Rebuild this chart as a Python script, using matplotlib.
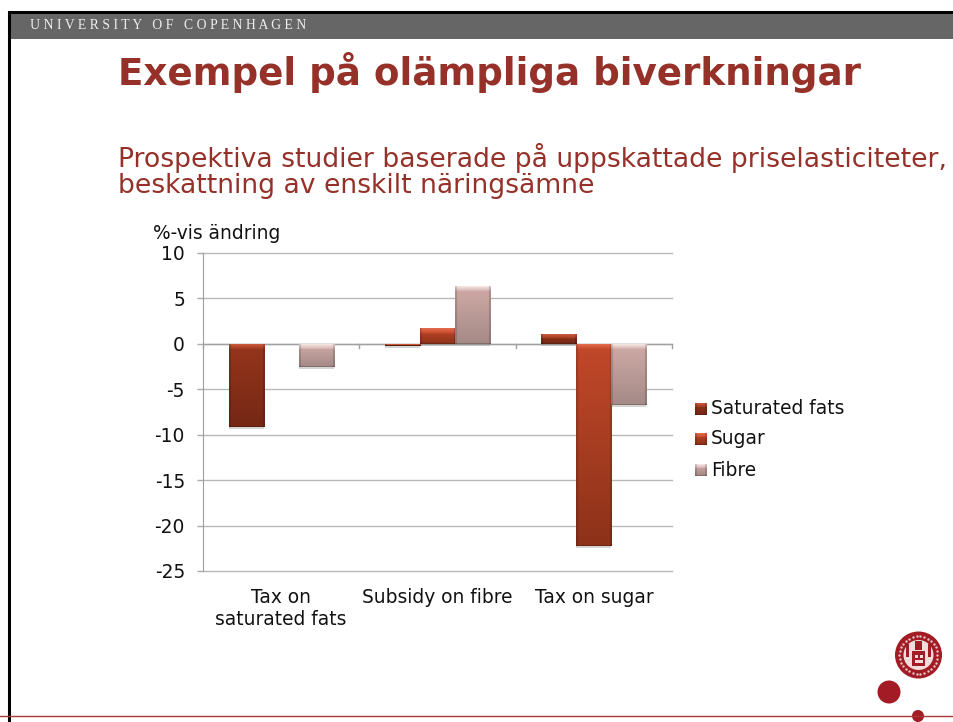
import numpy as np
import matplotlib
matplotlib.use("Agg")
import matplotlib.pyplot as plt
from matplotlib.colors import to_rgb
from matplotlib.patches import Circle, Rectangle

categories = ["Tax on\nsaturated fats", "Subsidy on fibre", "Tax on sugar"]
series_names = ["Saturated fats", "Sugar", "Fibre"]
saturated = [-9.1, -0.2, 1.0]
sugar = [0.0, 1.7, -22.2]
fibre = [-2.5, 6.3, -6.7]
y_ticks = [10, 5, 0, -5, -10, -15, -20, -25]

title = "Exempel på olämpliga biverkningar"
subtitle = "Prospektiva studier baserade på uppskattade priselasticiteter,\nbeskattning av enskilt näringsämne"
header = "UNIVERSITY OF COPENHAGEN"

W, H = 954, 722
RED = "#953129"
SEAL = "#a31b24"
TXT = "#111111"
FS = 13.4

# bevel, top of body, bottom of body
shades = [
    ("#c9583a", "#96351c", "#742815"),
    ("#e2694a", "#c2482a", "#8c3219"),
    ("#f3e4e2", "#cfaaa6", "#a58a87"),
]

plt.rcParams["font.family"] = "DejaVu Sans"
fig = plt.figure(figsize=(W / 100, H / 100), dpi=100, facecolor="white")


def bevel_image(height_px, shade, width_px=35, bevel=5):
    # rows run from the top of the bar down, sides and foot get a darker rim
    light, top, bottom = [np.array(to_rgb(c)) for c in shade]
    rows = max(int(round(height_px)), 2)
    body = np.linspace(0, 1, rows)[:, None] * (bottom - top) + top
    img = np.repeat(body[:, None, :], width_px, axis=1)
    n = min(bevel, rows // 2)
    for r in range(n):
        img[r] = light + (top - light) * r / max(n, 1)
    img[:, :2] *= 0.85
    img[:, -2:] *= 0.85
    img[-1:] *= 0.8
    return img


# slide furniture, in pixel coordinates
bg = fig.add_axes([0, 0, 1, 1])
bg.axis("off")
bg.add_patch(Rectangle((10, 13), W - 10, 26, color="#666666", lw=0))
bg.plot([9, 9, W], [H, 12, 12], color="black", lw=2.2, solid_joinstyle="miter")
bg.text(30, 25.5, " ".join(header), family="Liberation Serif", fontsize=9.9,
        color="#eeeeee", va="center", ha="left")
bg.text(118, 85, title, fontsize=26.8, fontweight="bold", color=RED, va="baseline")
bg.text(118, 193, subtitle, fontsize=19.2, color=RED, va="baseline", linespacing=1.0)
bg.text(153, 239, "%-vis ändring", fontsize=FS, color=TXT, va="baseline")
bg.plot([0, W], [716, 716], color="#a8383a", lw=1)
bg.add_patch(Circle((889, 692), 11.5, color=SEAL, lw=0))
bg.add_patch(Circle((918, 716), 6, color=SEAL, lw=0))

# university seal
bg.add_patch(Circle((918.5, 655), 23.5, color=SEAL, lw=0))
ang = np.arange(0, 360, 12) * np.pi / 180
bg.scatter(918.5 + 19 * np.cos(ang), 655 + 19 * np.sin(ang), s=3, color="#e8c4c4", lw=0)
bg.add_patch(Circle((918.5, 655), 15, color="#f0dcda", lw=0))
bg.add_patch(Rectangle((912, 651), 13, 15, color=SEAL, lw=0))
bg.add_patch(Rectangle((915, 655), 3, 3, color="#f0dcda", lw=0))
bg.add_patch(Rectangle((920, 655), 3, 3, color="#f0dcda", lw=0))
bg.add_patch(Rectangle((915, 660), 8, 3, color="#f0dcda", lw=0))
bg.add_patch(Rectangle((906, 644), 3, 13, color=SEAL, lw=0))
bg.add_patch(Rectangle((928, 644), 3, 13, color=SEAL, lw=0))
bg.add_patch(Rectangle((915, 641), 7, 9, color=SEAL, lw=0))

ax = fig.add_axes([203 / W, 1 - 571 / H, 469 / W, 318 / H])
ax.set_facecolor("none")
x = np.arange(len(categories))
bar_w = 0.224
px_per_unit = 318 / 35


def bevel_bars(offset, values, shade):
    bars = ax.bar(x + offset, values, bar_w, color="none", linewidth=0, zorder=4)
    for b, v in zip(bars, values):
        if v == 0:
            continue
        x0, w = b.get_x(), b.get_width()
        # soft shadow just below the bar
        ax.bar(x0 + w / 2, -0.25, w, bottom=min(v, 0), color="#888888", alpha=0.35, lw=0, zorder=2.5)
        ax.imshow(bevel_image(abs(v) * px_per_unit, shade), aspect="auto", zorder=3,
                  extent=(x0, x0 + w, min(v, 0), max(v, 0)), origin="upper",
                  interpolation="bilinear")
    return bars


for i, (vals, shade) in enumerate(zip([saturated, sugar, fibre], shades)):
    bevel_bars((i - 1) * bar_w, vals, shade)
ax.set_xlim(-0.5, 2.5)
ax.set_ylim(-25, 10)

ax.set_yticks(y_ticks)
ax.set_yticklabels([str(t) for t in y_ticks], fontsize=FS, color=TXT)
ax.set_xticks(x)
ax.set_xticklabels(categories, fontsize=FS, color=TXT, linespacing=1.2)
ax.tick_params(axis="x", length=0, pad=12.3)
ax.tick_params(axis="y", length=4, width=1, color="#aaaaaa", pad=9)
ax.grid(axis="y", color="#b8b8b8", lw=1, clip_on=False)
ax.set_axisbelow(True)
for s in ["top", "right", "bottom"]:
    ax.spines[s].set_visible(False)
ax.spines["left"].set_color("#a0a0a0")

# zero axis with its category ticks
ax.axhline(0, color="#a0a0a0", lw=1, zorder=2)
for b in [-0.5, 0.5, 1.5, 2.5]:
    ax.plot([b, b], [0, -0.45], color="#a0a0a0", lw=1, zorder=2, clip_on=False)

# legend drawn by hand so the swatches keep the bevel
leg_y = [409, 439, 470]
for name, shade, ly in zip(series_names, shades, leg_y):
    bg.imshow(bevel_image(12, shade, width_px=12, bevel=4), aspect="auto",
              extent=(695, 707, ly + 6, ly - 6), origin="upper", zorder=3)
    bg.text(711, ly, name, fontsize=FS, color=TXT, va="center")
bg.set_xlim(0, W)
bg.set_ylim(H, 0)

fig.savefig("out.png", dpi=100)
